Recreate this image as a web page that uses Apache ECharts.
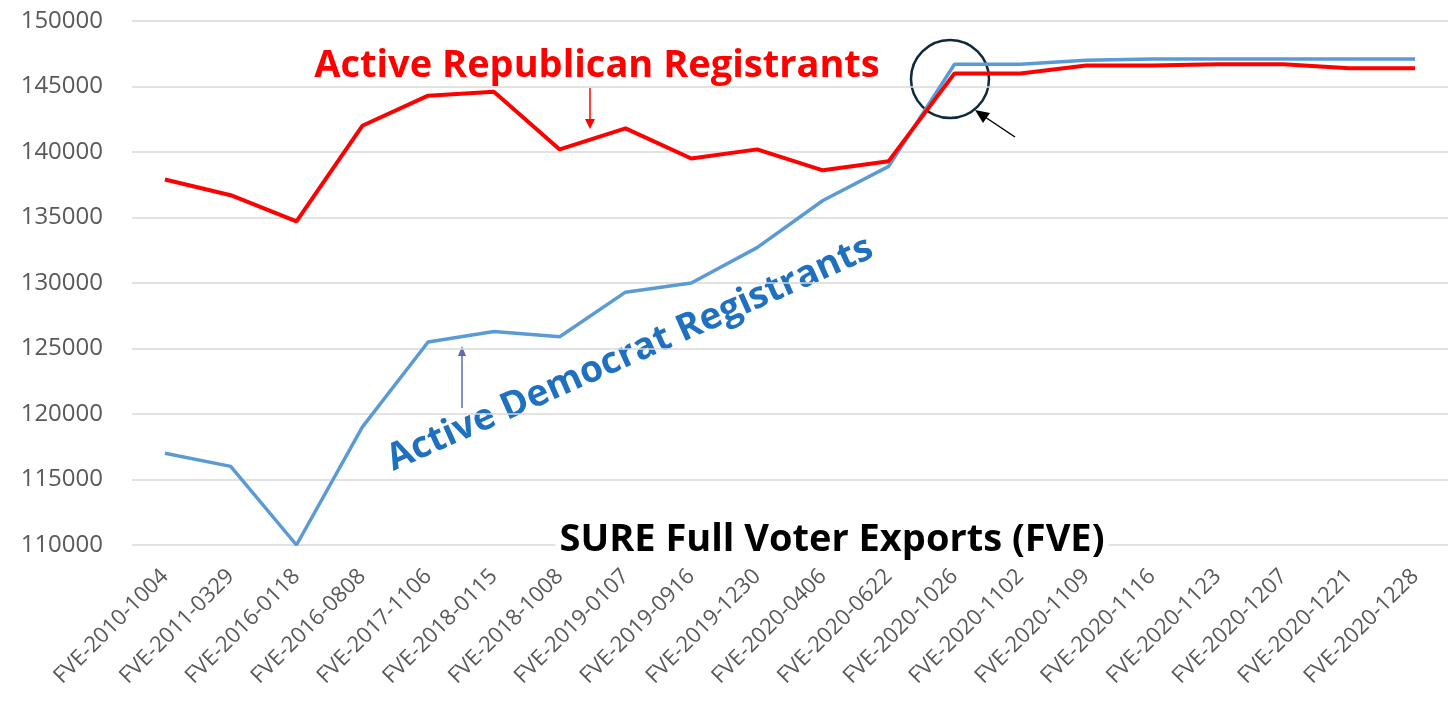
<!DOCTYPE html>
<html>
<head>
<meta charset="utf-8">
<script src="https://cdn.jsdelivr.net/npm/echarts@6/dist/echarts.min.js"></script>
<style>
  html, body { margin: 0; padding: 0; background: #fff; }
  #chart { width: 1448px; height: 708px; }
</style>
</head>
<body>
<div id="chart"></div>
<script>
// SURE full voter exports
const exportNames = [
  'FVE-2010-1004', 'FVE-2011-0329', 'FVE-2016-0118', 'FVE-2016-0808', 'FVE-2017-1106',
  'FVE-2018-0115', 'FVE-2018-1008', 'FVE-2019-0107', 'FVE-2019-0916', 'FVE-2019-1230',
  'FVE-2020-0406', 'FVE-2020-0622', 'FVE-2020-1026', 'FVE-2020-1102', 'FVE-2020-1109',
  'FVE-2020-1116', 'FVE-2020-1123', 'FVE-2020-1207', 'FVE-2020-1221', 'FVE-2020-1228'
]
const republican = [
  137900, 136700, 134700, 142000, 144300, 144600, 140200, 141800, 139500, 140200,
  138600, 139300, 146000, 146000, 146600, 146600, 146700, 146700, 146400, 146400
]
const democrat = [
  117000, 116000, 110000, 119000, 125500, 126300, 125900, 129300, 130000, 132700,
  136300, 138900, 146700, 146700, 147000, 147100, 147100, 147100, 147100, 147100
]
const yTicks = { min: 110000, max: 150000, step: 5000 }

const chart = echarts.init(document.getElementById('chart'))

const redArrow = '#ff0000'
const blueArrow = '#5a6db2'
const labelFont = '"Open Sans"'

const option = {
  animation: false,
  grid: { left: 132, right: 0, top: 21, bottom: 163 },
  xAxis: {
    type: 'category',
    data: exportNames,
    boundaryGap: true,
    axisLine: { show: false },
    axisTick: { show: false },
    axisLabel: {
      interval: 0,
      rotate: 45,
      margin: 28,
      color: '#595959',
      fontSize: 22,
      fontFamily: labelFont
    }
  },
  yAxis: {
    type: 'value',
    min: yTicks.min,
    max: yTicks.max,
    interval: yTicks.step,
    axisLine: { show: false },
    axisTick: { show: false },
    axisLabel: {
      color: '#595959',
      fontSize: 24,
      fontFamily: labelFont,
      margin: 29,
      formatter: (v) => String(v)
    },
    splitLine: { lineStyle: { color: '#d9d9d9', width: 1.5 } }
  },
  series: [
    {
      name: 'Active Democrat Registrants',
      type: 'line',
      data: democrat,
      symbol: 'none',
      lineStyle: { color: '#5b9bd5', width: 3.5 },
      z: 2
    },
    {
      name: 'Active Republican Registrants',
      type: 'line',
      data: republican,
      symbol: 'none',
      lineStyle: { color: '#ff0000', width: 4 },
      z: 3
    }
  ],
  graphic: [
    {
      type: 'text', x: 597, y: 66,
      style: { text: 'Active Republican Registrants', fill: '#ff0000', font: 'bold 38px "Open Sans"', align: 'center', verticalAlign: 'middle' }
    },
    { type: 'line', shape: { x1: 590, y1: 88, x2: 590, y2: 122 }, style: { stroke: redArrow, lineWidth: 1.5 } },
    { type: 'polygon', shape: { points: [[585, 119], [595, 119], [590, 129]] }, style: { fill: redArrow } },
    {
      type: 'text', x: 630, y: 354, rotation: 24 * Math.PI / 180,
      style: { text: 'Active Democrat Registrants', fill: '#1f70bf', font: 'bold 37px "Open Sans"', align: 'center', verticalAlign: 'middle' }
    },
    { type: 'line', shape: { x1: 462, y1: 408, x2: 462, y2: 354 }, style: { stroke: blueArrow, lineWidth: 1.5 } },
    { type: 'polygon', shape: { points: [[458, 356], [466, 356], [462, 346]] }, style: { fill: blueArrow } },
    {
      type: 'text', x: 832, y: 540, z: 10,
      style: {
        text: 'SURE Full Voter Exports (FVE)', fill: '#000', font: 'bold 38px "Open Sans"',
        align: 'center', verticalAlign: 'middle', backgroundColor: '#fff', padding: [0, 4]
      }
    },
    { type: 'circle', shape: { cx: 950, cy: 79, r: 39 }, style: { fill: 'none', stroke: '#0e2a3b', lineWidth: 2.5 } },
    { type: 'line', shape: { x1: 1015, y1: 137, x2: 985, y2: 117 }, style: { stroke: '#000', lineWidth: 1.5 } },
    { type: 'polygon', shape: { points: [[975, 110], [990, 113], [983, 123]] }, style: { fill: '#000' } }
  ]
}

chart.setOption(option)
</script>
</body>
</html>
